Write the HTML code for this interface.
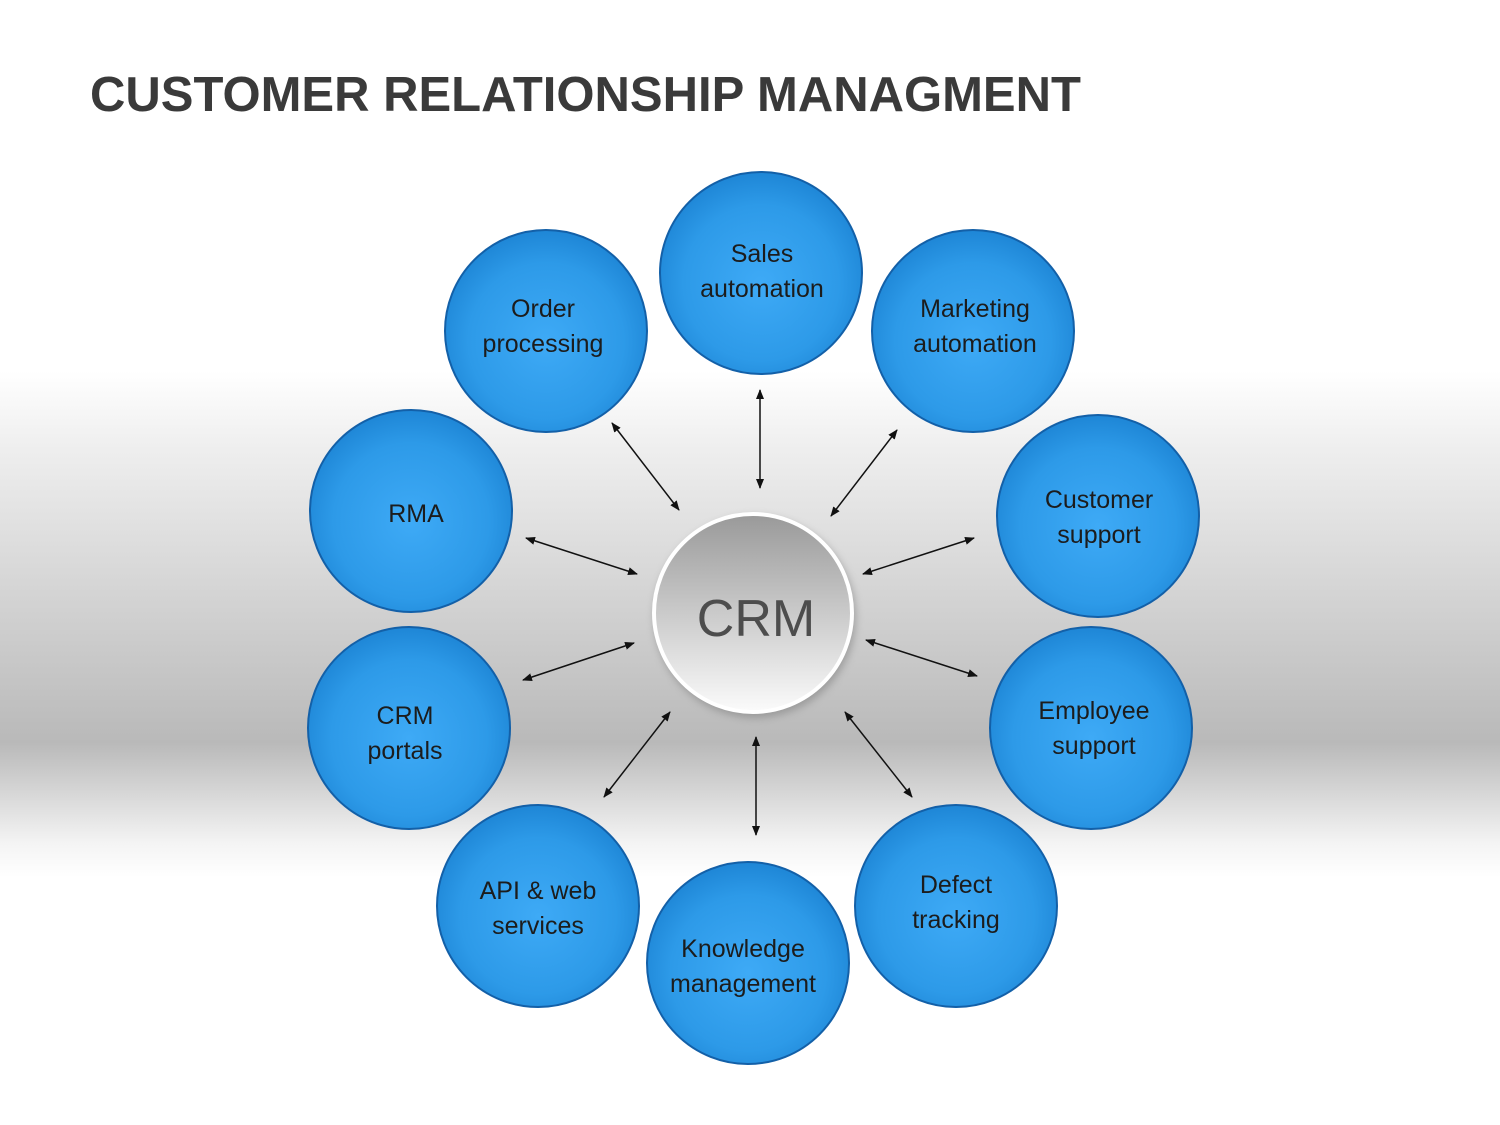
<!DOCTYPE html>
<html><head><meta charset="utf-8"><style>
html,body{margin:0;padding:0;}
body{width:1500px;height:1125px;overflow:hidden;background:#fff;}
svg{display:block;}
</style></head><body>
<svg width="1500" height="1125" viewBox="0 0 1500 1125" xmlns="http://www.w3.org/2000/svg" font-family="'Liberation Sans', sans-serif">
<defs>
<linearGradient id="bg" x1="0" y1="0" x2="0" y2="1">
<stop offset="0" stop-color="#ffffff"/>
<stop offset="0.33" stop-color="#ffffff"/>
<stop offset="0.4" stop-color="#eeeeee"/>
<stop offset="0.66" stop-color="#b9b9b9"/>
<stop offset="0.75" stop-color="#f4f4f4"/>
<stop offset="0.78" stop-color="#ffffff"/>
<stop offset="1" stop-color="#ffffff"/>
</linearGradient>
<radialGradient id="blue" cx="0.5" cy="0.55" r="0.55">
<stop offset="0" stop-color="#3eaaf6"/>
<stop offset="0.7" stop-color="#2d9ae8"/>
<stop offset="1" stop-color="#1e86d6"/>
</radialGradient>
<linearGradient id="gray" x1="0" y1="0" x2="0" y2="1">
<stop offset="0" stop-color="#999"/>
<stop offset="1" stop-color="#fbfbfb"/>
</linearGradient>
<filter id="sh" x="-20%" y="-20%" width="140%" height="140%"><feGaussianBlur stdDeviation="4"/></filter>
<marker id="ah" viewBox="0 0 10 10" refX="9" refY="5" markerWidth="10" markerHeight="10" markerUnits="userSpaceOnUse" orient="auto-start-reverse"><path d="M0,1 L10,5 L0,9 z" fill="#111"/></marker>
</defs>
<rect width="1500" height="1125" fill="url(#bg)"/>
<text x="90" y="111" font-size="49" font-weight="bold" fill="#3a3a3a">CUSTOMER RELATIONSHIP MANAGMENT</text>

<g stroke="#111" stroke-width="1.5" marker-start="url(#ah)" marker-end="url(#ah)">
<line x1="760" y1="390" x2="760" y2="488"/>
<line x1="612" y1="423" x2="679" y2="510"/>
<line x1="897" y1="430" x2="831" y2="516"/>
<line x1="526" y1="538" x2="637" y2="574"/>
<line x1="974" y1="538" x2="863" y2="574"/>
<line x1="523" y1="680" x2="634" y2="643"/>
<line x1="866" y1="640" x2="977" y2="676"/>
<line x1="670" y1="712" x2="604" y2="797"/>
<line x1="756" y1="737" x2="756" y2="835"/>
<line x1="845" y1="712" x2="912" y2="797"/>
</g>

<g fill="url(#blue)" stroke="#1360a8" stroke-width="2">
<circle cx="761" cy="273" r="101"/>
<circle cx="546" cy="331" r="101"/>
<circle cx="973" cy="331" r="101"/>
<circle cx="411" cy="511" r="101"/>
<circle cx="1098" cy="516" r="101"/>
<circle cx="409" cy="728" r="101"/>
<circle cx="1091" cy="728" r="101"/>
<circle cx="538" cy="906" r="101"/>
<circle cx="748" cy="963" r="101"/>
<circle cx="956" cy="906" r="101"/>
</g>

<circle cx="755" cy="617" r="101" fill="#777" opacity="0.5" filter="url(#sh)"/>
<circle cx="753" cy="613" r="99" fill="url(#gray)" stroke="#fff" stroke-width="4"/>
<text x="756" y="636" font-size="52" fill="#4d4d4d" text-anchor="middle">CRM</text>

<g font-size="25" fill="#1c1c1c" text-anchor="middle">
<text x="762" y="262">Sales</text><text x="762" y="297">automation</text>
<text x="543" y="317">Order</text><text x="543" y="352">processing</text>
<text x="975" y="317">Marketing</text><text x="975" y="352">automation</text>
<text x="416" y="522">RMA</text>
<text x="1099" y="508">Customer</text><text x="1099" y="543">support</text>
<text x="405" y="724">CRM</text><text x="405" y="759">portals</text>
<text x="1094" y="719">Employee</text><text x="1094" y="754">support</text>
<text x="538" y="899">API &amp; web</text><text x="538" y="934">services</text>
<text x="743" y="957">Knowledge</text><text x="743" y="992">management</text>
<text x="956" y="893">Defect</text><text x="956" y="928">tracking</text>
</g>
</svg>
</body></html>
